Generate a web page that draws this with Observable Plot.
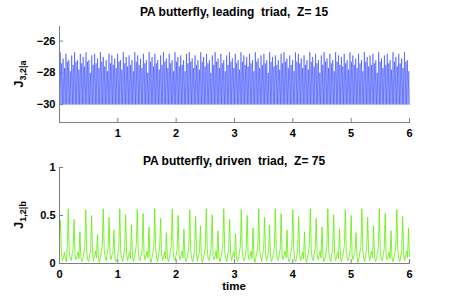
<!DOCTYPE html>
<html><head><meta charset="utf-8">
<script src="https://cdn.jsdelivr.net/npm/d3@7"></script>
<script src="https://cdn.jsdelivr.net/npm/@observablehq/plot@0.6"></script>
<style>
html,body{margin:0;padding:0;background:#fff;}
#chart{width:452px;height:296px;}
#chart svg{display:block;}
svg text{white-space:pre;}
</style></head><body><div id="chart"></div>
<script>
// ---- top panel data (leading triad, J_{3,2|a}) ----
const topTrough = -30.0;
const topPeaks = [
-26.7,-27.1,-26.8,-27.2,-26.9,-26.7,-27.2,-26.8,-27.0,-26.7,-27.2,-26.9,-26.8,-27.1,-26.7,-27.0,-27.2,-26.8,-26.9,-27.1,
-26.8,-27.2,-26.7,-27.0,-26.9,-27.2,-26.7,-26.9,-27.1,-26.8,-27.2,-26.7,-27.0,-26.8,-27.2,-26.9,-26.7,-27.1,-26.8,-27.2,
-26.7,-27.0,-26.9,-27.2,-26.8,-26.7,-27.1,-26.9,-27.2,-26.7,-27.0,-26.8,-27.2,-26.9,-26.7,-27.1,-26.8,-27.2,-26.9,-26.7,
-27.1,-26.8,-27.2,-26.7,-26.9,-27.0,-26.8,-27.2,-26.7,-27.1,-26.9,-26.8,-27.2,-26.7,-27.0,-26.9,-27.2,-26.8,-26.7,-27.1,
-26.9,-27.2,-26.7,-26.8,-27.1,-26.9,-27.2,-26.7,-27.0,-26.8,-27.2,-26.9,-26.7,-27.1,-26.8,-27.2,-26.7,-26.9,-27.0,-26.8,
-27.2,-26.7,-26.9,-27.1,-26.8,-27.2,-26.7,-27.0,-26.9,-26.8,-27.2,-26.7,-27.1,-26.9,-26.8,-27.2,-26.7,-27.0,-26.8,-27.1,-26.7,-27.2
];
const topMinor = [
-27.4,-27.7,-27.3,-27.9,-27.5,-27.3,-27.8,-27.4,-27.6,-27.3,-28.0,-27.5,-27.4,-27.7,-27.3,-27.6,-27.9,-27.4,-27.5,-27.7,
-27.3,-27.8,-27.4,-27.6,-27.5,-27.9,-27.3,-27.5,-27.7,-27.4,-28.0,-27.3,-27.6,-27.4,-27.8,-27.5,-27.3,-27.7,-27.4,-27.9,
-27.3,-27.6,-27.5,-27.9,-27.4,-27.3,-27.7,-27.5,-27.8,-27.3,-27.6,-27.4,-28.0,-27.5,-27.3,-27.7,-27.4,-27.9,-27.5,-27.3,
-27.7,-27.4,-27.8,-27.3,-27.5,-27.6,-27.4,-27.9,-27.3,-27.7,-27.5,-27.4,-28.0,-27.3,-27.6,-27.5,-27.8,-27.4,-27.3,-27.7,
-27.5,-27.9,-27.3,-27.4,-27.7,-27.5,-27.8,-27.3,-27.6,-27.4,-28.0,-27.5,-27.3,-27.7,-27.4,-27.9,-27.3,-27.5,-27.6,-27.4,
-27.8,-27.3,-27.5,-27.7,-27.4,-27.9,-27.3,-27.6,-27.5,-27.4,-28.0,-27.3,-27.7,-27.5,-27.4,-27.8,-27.3,-27.6,-27.4,-27.7,-27.3,-27.9
];
const topYTicks = [-30, -28, -26];
const topXTicks = [1, 2, 3, 4, 5, 6];

// ---- bottom panel data (driven triad, J_{1,2|b}), sampled every 1/60 time unit ----
const bottomValues = [
0.28,0.45,0.10,0.03,0.06,0.12,0.05,0.02,0.17,
0.57,0.13,0.05,0.03,0.10,0.15,0.46,0.09,0.04,0.07,0.12,0.05,0.33,0.06,0.02,0.05,0.11,0.18,
0.56,0.12,0.04,0.02,0.09,0.14,0.50,0.10,0.03,0.08,0.13,0.06,0.30,0.07,0.01,0.06,0.12,0.19,
0.57,0.14,0.06,0.03,0.10,0.16,0.48,0.08,0.04,0.09,0.11,0.35,0.06,0.02,0.04,0.10,0.17,
0.57,0.12,0.05,0.02,0.08,0.15,0.51,0.11,0.03,0.07,0.12,0.05,0.40,0.08,0.02,0.05,0.12,0.20,
0.56,0.13,0.04,0.03,0.09,0.14,0.52,0.09,0.04,0.08,0.13,0.06,0.38,0.07,0.01,0.05,0.11,0.18,
0.57,0.14,0.05,0.02,0.10,0.16,0.47,0.10,0.03,0.07,0.12,0.05,0.32,0.06,0.02,0.06,0.12,0.19,
0.57,0.12,0.04,0.03,0.09,0.15,0.50,0.09,0.04,0.08,0.13,0.06,0.36,0.07,0.02,0.05,0.10,0.18,
0.56,0.13,0.05,0.02,0.08,0.14,0.49,0.10,0.03,0.09,0.12,0.39,0.06,0.01,0.05,0.11,0.17,
0.57,0.14,0.04,0.03,0.10,0.16,0.51,0.08,0.04,0.07,0.13,0.05,0.34,0.07,0.02,0.06,0.12,0.20,
0.57,0.12,0.05,0.02,0.09,0.15,0.46,0.10,0.03,0.08,0.12,0.06,0.31,0.06,0.02,0.05,0.11,0.18,
0.56,0.13,0.04,0.03,0.08,0.14,0.50,0.09,0.04,0.07,0.13,0.05,0.37,0.08,0.01,0.06,0.12,0.19,
0.57,0.14,0.06,0.02,0.10,0.16,0.48,0.10,0.03,0.08,0.12,0.40,0.07,0.02,0.05,0.10,0.17,
0.57,0.12,0.05,0.03,0.09,0.15,0.52,0.08,0.04,0.09,0.13,0.06,0.35,0.06,0.02,0.05,0.11,0.18,
0.56,0.13,0.04,0.02,0.08,0.14,0.49,0.10,0.03,0.07,0.12,0.05,0.33,0.07,0.01,0.06,0.12,0.20,
0.57,0.14,0.05,0.03,0.10,0.16,0.47,0.09,0.04,0.08,0.13,0.06,0.38,0.08,0.02,0.05,0.10,0.18,
0.57,0.12,0.04,0.02,0.09,0.15,0.51,0.10,0.03,0.07,0.12,0.05,0.36,0.06,0.02,0.06,0.11,0.19,
0.56,0.13,0.05,0.03,0.08,0.14,0.50,0.08,0.04,0.09,0.12,0.32,0.07,0.01,0.05,0.12,0.17,
0.57,0.14,0.04,0.02,0.10,0.16,0.48,0.10,0.03,0.08,0.13,0.06,0.39,0.07,0.02,0.05,0.11,0.18,
0.57,0.12,0.05,0.03,0.09,0.15,0.52,0.09,0.04,0.07,0.12,0.05,0.34,0.06,0.02,0.06,0.12,0.19,
0.56,0.13,0.04,0.02,0.08,0.14,0.49,0.10,0.03,0.08,0.13,0.06,0.37,0.07
];
const bottomYTicks = [0, 0.5, 1];
const bottomXTicks = [0, 1, 2, 3, 4, 5, 6];

const titles = ["PA butterfly, leading  triad,  Z= 15", "PA butterfly, driven  triad,  Z= 75"];
const yLabels = [{main: "J", sub: "3,2|a"}, {main: "J", sub: "1,2|b"}];
const xLabel = "time";

// ---- build tables ----
const topSeq = [];
topPeaks.forEach((p, i) => { topSeq.push(topTrough, p, topTrough, topMinor[i]); });
topSeq.push(topTrough);
const topData = topSeq.map((v, i) => ({t: 6 * i / (topSeq.length - 1), v}));
const bottomData = bottomValues.map((v, i) => ({t: 6 * i / (bottomValues.length - 1), v}));

const W = 452, H = 148, ML = 59, MR = 43;
const FONT = "'Liberation Sans', Arial, Helvetica, sans-serif";
const fmt = d => d < 0 ? "\u2212" + Math.abs(d) : String(d);
const axisGray = "#7f7f7f";

function panel({data, color, sw, yDomain, yTicks, xTicks, mt, mb, title, titleGap, ylab, xlab}) {
  const p = Plot.plot({
    width: W, height: H, marginLeft: ML, marginRight: MR, marginTop: mt, marginBottom: mb,
    x: {domain: [0, 6]},
    y: {domain: yDomain},
    style: {fontFamily: FONT, fontSize: "11px", fontWeight: "bold", color: "#000", background: "#fff", overflow: "visible"},
    marks: [
      Plot.line(data, {x: "t", y: "v", stroke: color, strokeWidth: sw}),
      Plot.frame({anchor: "left", stroke: axisGray}),
      Plot.frame({anchor: "bottom", stroke: axisGray}),
      Plot.axisX(xTicks, {anchor: "bottom", tickSize: 4, dy: -4, text: null, stroke: axisGray, label: null}),
      Plot.axisX(xTicks, {anchor: "bottom", tickSize: 0, tickPadding: 7, tickFormat: fmt, label: null}),
      Plot.axisY(yTicks, {anchor: "left", tickSize: 4, dx: 4, text: null, stroke: axisGray, label: null}),
      Plot.axisY(yTicks, {anchor: "left", tickSize: 0, tickPadding: 4, tickFormat: fmt, label: null})
    ]
  });
  const svg = d3.select(p);
  const cx = (ML + (W - MR)) / 2;
  svg.append("text").attr("x", cx).attr("y", mt - titleGap).attr("text-anchor", "middle")
    .attr("font-size", 12).attr("font-weight", "bold").attr("fill", "#000").text(title);
  const cy = (mt + (H - mb)) / 2;
  const yl = svg.append("text").attr("transform", `translate(22.5,${cy}) rotate(-90)`)
    .attr("text-anchor", "middle").attr("font-weight", "bold").attr("fill", "#000");
  yl.append("tspan").attr("font-size", 13).text(ylab.main);
  yl.append("tspan").attr("font-size", 9).attr("dy", 3).text(ylab.sub);
  if (xlab) {
    svg.append("text").attr("x", cx).attr("y", H - mb + 27).attr("text-anchor", "middle")
      .attr("font-size", 11.5).attr("font-weight", "bold").attr("fill", "#000").text(xlab);
  }
  return p;
}

const chart = document.getElementById("chart");
chart.append(panel({data: topData, color: "#0a22ff", sw: 0.45, yDomain: [-31.13, -25.08],
  yTicks: topYTicks, xTicks: topXTicks, mt: 26, mb: 26, title: titles[0], titleGap: 10, ylab: yLabels[0]}));
chart.append(panel({data: bottomData, color: "#5cf000", sw: 0.8, yDomain: [0, 1],
  yTicks: bottomYTicks, xTicks: bottomXTicks, mt: 19, mb: 33, title: titles[1], titleGap: 2, ylab: yLabels[1], xlab: xLabel}));
</script></body></html>
